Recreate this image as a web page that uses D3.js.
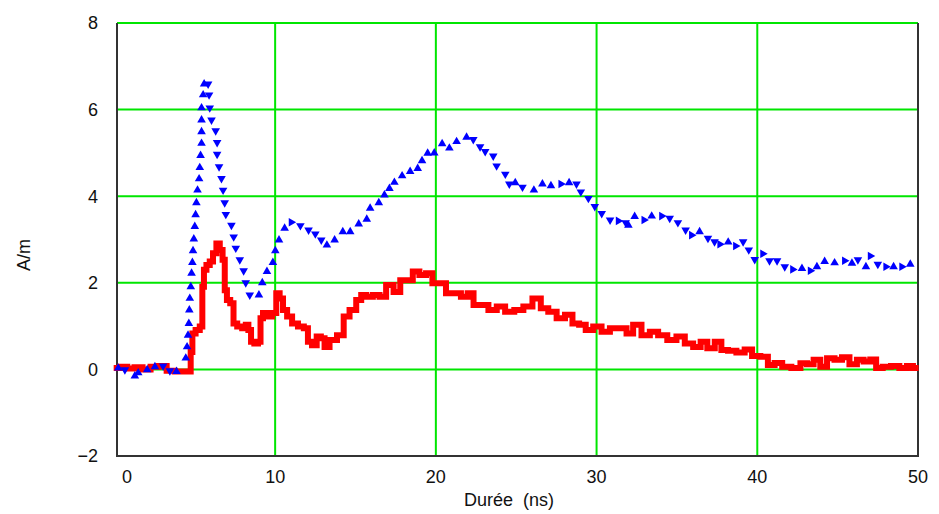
<!DOCTYPE html>
<html>
<head>
    <script src="https://cdn.jsdelivr.net/npm/d3@7"></script>
</head>

<style>
    body { margin: 0; background: white; }
    text { font-family: "Liberation Sans", Arial, sans-serif; font-size: 18px; fill: #111; }
</style>

<body>
<div id="chart"></div>

<script>

    // red trace: time (ns) / value (A/m)
    var redT = [0.14, 0.6, 1.0, 1.5, 2.0, 2.5, 3.0, 3.5, 4.0, 4.69, 4.8, 4.9, 5.2, 5.42, 5.52, 5.62, 5.83, 6.03, 6.24, 6.45,
        6.66, 6.8, 6.93, 7.07, 7.34, 7.48, 7.8, 8.1, 8.25, 8.42, 8.58, 8.83, 9.04, 9.14, 9.35, 9.66, 9.97, 10.17, 10.39, 10.59,
        10.9, 11.21, 11.63, 11.94, 12.14, 12.45, 12.72, 12.97, 13.18, 13.59, 14.11, 14.42, 14.84, 15.25, 15.46, 15.87, 16.29, 16.7, 17.11, 17.63,
        17.94, 18.36, 18.77, 19.18, 19.6, 19.97, 20.42, 20.84, 21.35, 21.77, 22.19, 22.5, 23.01, 23.53, 24.05, 24.57, 25.19, 25.7, 26.32, 26.74,
        27.25, 27.78, 28.29, 28.71, 29.12, 29.53, 30.05, 30.57, 31.09, 31.71, 32.02, 32.53, 33.06, 33.57, 34.09, 34.71, 35.23, 35.75, 36.27, 36.68,
        37.1, 37.61, 37.92, 38.44, 38.96, 39.47, 39.88, 40.5, 40.82, 41.34, 41.76, 42.48, 42.89, 43.3, 43.71, 44.13, 44.55, 45.06, 45.48, 45.99,
        46.41, 46.82, 47.24, 47.55, 48.06, 48.58, 49.1, 49.52, 49.85];
    var redV = [0.03, 0.06, 0.02, 0.05, 0.0, 0.06, 0.08, -0.03, -0.05, -0.05, 0.4, 0.83, 0.91, 0.99, 1.91, 2.3, 2.41, 2.49, 2.68, 2.91,
        2.76, 2.53, 1.83, 1.6, 1.53, 1.06, 0.99, 0.95, 1.03, 0.91, 0.64, 0.6, 0.64, 1.18, 1.3, 1.22, 1.3, 1.76, 1.64, 1.37,
        1.22, 1.06, 0.99, 0.95, 0.64, 0.56, 0.76, 0.72, 0.52, 0.68, 0.79, 1.22, 1.37, 1.6, 1.72, 1.68, 1.72, 1.68, 1.95, 1.79,
        2.06, 2.06, 2.26, 2.18, 2.22, 1.99, 1.99, 1.76, 1.76, 1.68, 1.76, 1.49, 1.49, 1.37, 1.45, 1.33, 1.37, 1.45, 1.64, 1.41,
        1.33, 1.18, 1.26, 1.06, 1.03, 0.91, 0.99, 0.87, 0.95, 0.95, 0.83, 1.03, 0.79, 0.87, 0.79, 0.68, 0.76, 0.6, 0.52, 0.64,
        0.49, 0.64, 0.45, 0.43, 0.39, 0.46, 0.31, 0.29, 0.1, 0.15, 0.06, 0.03, 0.14, 0.12, 0.22, 0.06, 0.26, 0.22, 0.28, 0.12,
        0.22, 0.18, 0.23, 0.03, 0.06, 0.08, 0.03, 0.08, 0.03];

    // blue trace (markers)
    var blueT = [0.24, 0.65, 1.27, 1.48, 2.04, 2.52, 3.03, 3.45, 3.86, 4.44, 4.52, 4.58, 4.63, 4.66, 4.69, 4.75, 4.8, 4.85, 4.89, 4.94,
        5.0, 5.05, 5.1, 5.17, 5.27, 5.31, 5.36, 5.42, 5.42, 5.42, 5.42, 5.52, 5.58, 5.83, 5.89, 5.93, 6.04, 6.3, 6.39, 6.39,
        6.51, 6.66, 6.76, 6.86, 6.93, 7.28, 7.42, 7.55, 7.8, 8.04, 8.17, 8.42, 8.99, 9.2, 9.49, 9.86, 10.01, 10.24, 10.59, 11.0,
        11.57, 12.08, 12.5, 12.87, 13.22, 13.7, 14.21, 14.67, 15.2, 15.7, 15.91, 16.45, 16.8, 17.11, 17.42, 17.9, 18.4, 18.87, 19.14, 19.49,
        19.9, 20.39, 20.84, 21.29, 21.91, 22.33, 22.75, 23.07, 23.57, 23.78, 24.32, 24.57, 24.94, 25.39, 26.1, 26.63, 27.16, 27.78, 28.29, 28.75,
        29.02, 29.49, 29.89, 30.32, 30.84, 31.35, 31.81, 31.98, 32.37, 32.95, 33.43, 34.05, 34.55, 35.06, 35.54, 35.91, 36.41, 36.93, 37.34, 37.67,
        38.19, 38.65, 39.12, 39.47, 39.84, 40.34, 40.76, 41.23, 41.71, 42.2, 42.78, 43.3, 43.71, 44.19, 44.81, 45.43, 45.89, 46.26, 46.76, 47.03,
        47.5, 48.0, 48.48, 48.99, 49.52];
    var blueV = [0.03, -0.01, -0.15, -0.08, -0.01, 0.06, 0.08, -0.03, -0.05, 0.26, 0.52, 0.79, 1.06, 1.37, 1.64, 1.91, 2.22, 2.47, 2.74, 3.01,
        3.3, 3.57, 3.85, 4.14, 4.4, 4.66, 4.94, 5.22, 5.49, 5.76, 6.04, 6.34, 6.59, 6.59, 6.34, 6.04, 5.76, 5.51, 5.24, 4.97,
        4.68, 4.41, 4.14, 3.85, 3.58, 3.33, 3.06, 2.8, 2.53, 2.28, 2.0, 1.72, 1.72, 2.0, 2.26, 2.47, 2.74, 2.99, 3.26, 3.4,
        3.32, 3.22, 3.13, 2.99, 2.87, 2.99, 3.18, 3.18, 3.36, 3.47, 3.72, 3.85, 4.03, 4.18, 4.32, 4.47, 4.57, 4.64, 4.82, 4.99,
        5.0, 5.21, 5.11, 5.26, 5.36, 5.31, 5.14, 5.03, 4.93, 4.7, 4.51, 4.28, 4.31, 4.21, 4.14, 4.28, 4.24, 4.28, 4.31, 4.28,
        4.1, 3.95, 3.76, 3.6, 3.45, 3.43, 3.39, 3.33, 3.53, 3.45, 3.54, 3.54, 3.49, 3.39, 3.22, 3.1, 3.18, 3.03, 2.95, 2.89,
        2.94, 2.85, 2.95, 2.76, 2.54, 2.67, 2.51, 2.51, 2.37, 2.31, 2.33, 2.28, 2.37, 2.49, 2.46, 2.51, 2.45, 2.53, 2.37, 2.62,
        2.43, 2.37, 2.37, 2.37, 2.43];

    var xTicks = [0, 10, 20, 30, 40, 50];
    var yTicks = [-2, 0, 2, 4, 6, 8];

    var red = redT.map(function(t, i) { return { t: t, v: redV[i] }; });
    var blue = blueT.map(function(t, i) { return { t: t, v: blueV[i] }; });

    var W = 939, H = 514;
    var plot = { left: 117, right: 918, top: 23, bottom: 456 };

    var xScale = d3.scaleLinear()
        .domain([0.16, 50])
        .range([plot.left, plot.right]);

    var yScale = d3.scaleLinear()
        .domain([-2, 8])
        .range([plot.bottom, plot.top]);

    var svg = d3.select('#chart').append('svg')
        .attr('width', W)
        .attr('height', H);

    // grid
    svg.append('g').selectAll('line.gx')
        .data(xTicks.filter(function(d) { return d > 0 && d < 50; }))
        .enter().append('line')
        .attr('x1', function(d) { return xScale(d); })
        .attr('x2', function(d) { return xScale(d); })
        .attr('y1', plot.top)
        .attr('y2', plot.bottom)
        .attr('stroke', '#00e600')
        .attr('stroke-width', 2);

    svg.append('g').selectAll('line.gy')
        .data(yTicks.filter(function(d) { return d > -2; }))
        .enter().append('line')
        .attr('x1', plot.left)
        .attr('x2', plot.right)
        .attr('y1', function(d) { return yScale(d); })
        .attr('y2', function(d) { return yScale(d); })
        .attr('stroke', '#00e600')
        .attr('stroke-width', 2);

    // frame (left, bottom, right)
    svg.append('path')
        .attr('d', 'M' + plot.left + ',' + plot.top + 'V' + plot.bottom + 'H' + plot.right + 'V' + plot.top)
        .attr('fill', 'none')
        .attr('stroke', '#333')
        .attr('stroke-width', 2);

    // red trace, stepped like the sampled record
    var line = d3.line()
        .curve(d3.curveStep)
        .x(function(d) { return xScale(d.t); })
        .y(function(d) { return yScale(d.v); });

    svg.append('path')
        .datum(red)
        .attr('d', line)
        .attr('fill', 'none')
        .attr('stroke', '#ff0000')
        .attr('stroke-width', 6)
        .attr('stroke-linejoin', 'miter')
        .attr('stroke-linecap', 'square');

    // blue markers, orientation follows the trend
    var tri = d3.symbol().type(d3.symbolTriangle).size(32);
    svg.append('g').selectAll('path.m')
        .data(blue)
        .enter().append('path')
        .attr('d', tri)
        .attr('fill', '#0000ff')
        .attr('transform', function(d, i) {
            var prev = blue[Math.max(i - 1, 0)], next = blue[Math.min(i + 1, blue.length - 1)];
            var dv = next.v - prev.v;
            var rot = dv > 0.08 ? 0 : (dv < -0.08 ? 180 : (i % 2 ? 90 : 0));
            return 'translate(' + xScale(d.t) + ',' + yScale(d.v) + ') rotate(' + rot + ')';
        });

    // tick labels
    svg.append('g').selectAll('text')
        .data(yTicks)
        .enter().append('text')
        .attr('x', 98)
        .attr('y', function(d) { return yScale(d); })
        .attr('text-anchor', 'end')
        .attr('dy', '0.35em')
        .text(function(d) { return d < 0 ? '\u2212' + Math.abs(d) : d; });

    svg.append('g').selectAll('text')
        .data(xTicks)
        .enter().append('text')
        .attr('x', function(d) { return Math.max(xScale(d), 127); })
        .attr('y', 477)
        .attr('text-anchor', 'middle')
        .attr('dy', '0.35em')
        .text(function(d) { return d; });

    svg.append('text')
        .attr('transform', 'translate(24,255) rotate(-90)')
        .attr('text-anchor', 'middle')
        .attr('dy', '0.35em')
        .text('A/m');

    svg.append('text')
        .attr('x', 509)
        .attr('y', 500)
        .attr('text-anchor', 'middle')
        .attr('dy', '0.35em')
        .style('white-space', 'pre')
        .text('Durée  (ns)');

</script>
</body>
</html>
